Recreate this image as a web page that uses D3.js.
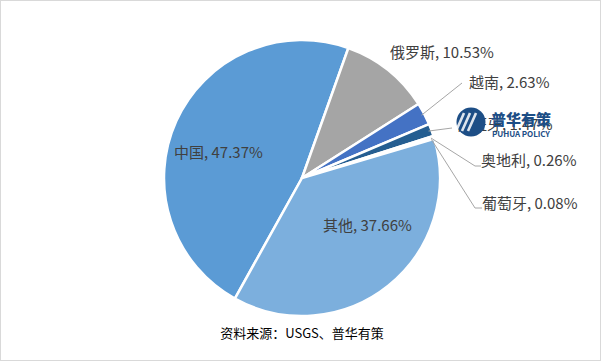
<!DOCTYPE html>
<html><head><meta charset="utf-8">
<script src="https://cdn.jsdelivr.net/npm/d3@7"></script>
<style>
html,body{margin:0;padding:0;background:#fff;}
svg{display:block;}
text{font-family:"Noto Sans CJK SC","Microsoft YaHei",sans-serif;}
</style></head>
<body>
<svg id="chart" width="601" height="361"></svg>
<script>
// ---- data ----
const categories = ["中国","俄罗斯","越南","西班牙","奥地利","葡萄牙","其他"];
const shares = [47.37,10.53,2.63,1.47,0.26,0.08,37.66];
const labelTexts = ["中国, 47.37%","俄罗斯, 10.53%","越南, 2.63%","西班牙, 1.47%","奥地利, 0.26%","葡萄牙, 0.08%","其他, 37.66%"];
const sourceText = "资料来源：USGS、普华有策";

// ---- style / layout ----
const colors = ["#5B9BD5","#A5A5A5","#4472C4","#255E91","#9DC3E6","#264478","#7CAFDD"];
const W = 601, H = 361;
const cx = 302, cy = 178, R = 138;
const startDeg = 209.1;
// label anchor positions (x = left edge of text, y = vertical centre)
const labelPos = [
  {x:174, y:153, line:null},
  {x:390, y:53, line:null},
  {x:469, y:83, line:[[462,83]]},
  {x:457, y:125, line:[[452,128]]},
  {x:481, y:161, line:[[475,166],[481,166]]},
  {x:482, y:204, line:[[475,208],[482,208]]},
  {x:323, y:226, line:null}
];

const svg = d3.select("#chart");
svg.append("rect").attr("x",0.5).attr("y",0.5).attr("width",W-1).attr("height",H-1)
  .attr("fill","#fff").attr("stroke","#D9D9D9").attr("stroke-width",1);

const data = categories.map((c,i)=>({cat:c, v:shares[i], i}));
const s0 = startDeg*Math.PI/180;
const pie = d3.pie().value(d=>d.v).sort(null).startAngle(s0).endAngle(s0+2*Math.PI);
const arcs = pie(data);
const arc = d3.arc().innerRadius(0).outerRadius(R);

const g = svg.append("g").attr("transform",`translate(${cx},${cy})`);
g.selectAll("path.slice").data(arcs).enter().append("path")
  .attr("class","slice")
  .attr("d",arc)
  .attr("fill",d=>colors[d.data.i])
  .attr("stroke","#fff").attr("stroke-width",2.5).attr("stroke-linejoin","round");

// leader lines
arcs.forEach(d=>{
  const lp = labelPos[d.data.i];
  if(!lp.line) return;
  const mid = (d.startAngle+d.endAngle)/2;
  const sx = cx + (R-3)*Math.sin(mid), sy = cy - (R-3)*Math.cos(mid);
  const pts = [[sx,sy]].concat(lp.line);
  svg.append("path").attr("d", d3.line()(pts))
    .attr("fill","none").attr("stroke","#A6A6A6").attr("stroke-width",1);
});

// labels
arcs.forEach(d=>{
  const lp = labelPos[d.data.i];
  svg.append("text").attr("x",lp.x).attr("y",lp.y)
    .attr("dy","0.35em").attr("font-size",15).attr("fill","#404040")
    .text(labelTexts[d.data.i]);
});

// watermark logo
const logo = svg.append("g").attr("transform","translate(471,122)");
logo.append("circle").attr("r",14.5).attr("fill","#1D4E86");
[-6,0,6].forEach(o=>{
  logo.append("path").attr("d",`M${-9+o},9 Q${-4+o},-2 ${-1+o},-9`)
    .attr("fill","none").attr("stroke","#fff").attr("stroke-width",2.6).attr("opacity",0.85);
});
logo.append("text").attr("x",20).attr("y",3).attr("font-size",15).attr("font-weight",900)
  .attr("fill","#1D4E86").text("普华有策");
logo.append("text").attr("x",21).attr("y",15).attr("font-size",8).attr("font-weight",700)
  .attr("font-family","Arial, 'Liberation Sans', sans-serif")
  .attr("fill","#1D4E86").attr("textLength",58).text("PUHUA POLICY");

// source
svg.append("text").attr("x",cx).attr("y",333).attr("dy","0.35em")
  .attr("text-anchor","middle").attr("font-size",13).attr("fill","#000")
  .text(sourceText);
</script>
</body></html>
